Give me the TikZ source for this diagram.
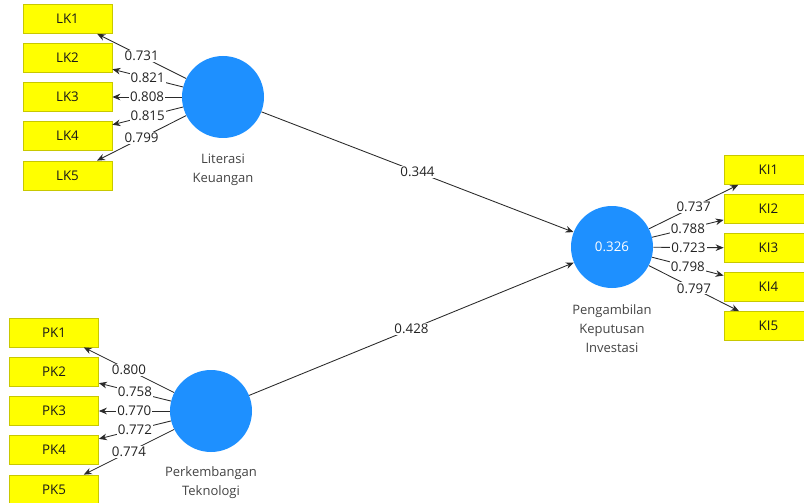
\documentclass[tikz,border=0pt]{standalone}
\usepackage{fontspec}
\setmainfont{Open Sans}
\usetikzlibrary{arrows.meta}
\definecolor{lvblue}{HTML}{1E90FF}
\definecolor{boxyellow}{HTML}{FFFF00}
\definecolor{boxborder}{HTML}{C8C800}
\definecolor{lineclr}{HTML}{2A2A2A}
\definecolor{txtclr}{HTML}{222222}
\tikzset{
  ind/.style={draw=boxborder, line width=0.6pt, fill=boxyellow, minimum width=66.75pt, minimum height=21.75pt, inner sep=0pt, font=\fontsize{10}{12}\selectfont, text=black!90},
  latent/.style={circle, fill=lvblue, minimum size=61.5pt, inner sep=0pt, font=\fontsize{10}{12}\selectfont, text=white},
  lvlabel/.style={anchor=north, align=center, inner sep=0pt, font=\fontsize{9.75}{14.25}\selectfont, text=txtclr!85},
  conn/.style={draw=lineclr, line width=0.65pt, -{Stealth[length=6pt,width=5pt]}},
  wlab/.style={fill=white, inner sep=0.8pt, font=\fontsize{10}{12}\selectfont, text=txtclr}
}
\begin{document}
\begin{tikzpicture}[x=0.75pt,y=-0.75pt]
\useasboundingbox (0,0) rectangle (804,503);
\clip (0,0) rectangle (804,503);
% latent variables
\node[latent] (LIT) at (223,97) {};
\node[latent] (PT) at (211,411) {};
\node[latent] (PKI) at (612,247) {0.326};
\node[lvlabel] (LITl) at (223,154) {Literasi\\Keuangan};
\node[lvlabel] (PTl) at (211,466) {Perkembangan\\Teknologi};
\node[lvlabel] (PKIl) at (612,304) {Pengambilan\\Keputusan\\Investasi};
% LK indicators
\node[ind] (LK1) at (67.5,19) {LK1};
\node[ind] (LK2) at (67.5,58) {LK2};
\node[ind] (LK3) at (67.5,97) {LK3};
\node[ind] (LK4) at (67.5,136) {LK4};
\node[ind] (LK5) at (67.5,175.5) {LK5};
% PK indicators
\node[ind] (PK1) at (54,332.5) {PK1};
\node[ind] (PK2) at (54,372) {PK2};
\node[ind] (PK3) at (54,411) {PK3};
\node[ind] (PK4) at (54,450) {PK4};
\node[ind] (PK5) at (54,489.5) {PK5};
% KI indicators
\node[ind] (KI1) at (768.5,170) {KI1};
\node[ind] (KI2) at (768.5,209) {KI2};
\node[ind] (KI3) at (768.5,248) {KI3};
\node[ind] (KI4) at (768.5,287) {KI4};
\node[ind] (KI5) at (768.5,326) {KI5};
% loadings
\draw[conn] (LIT) -- node[wlab] {0.731} (LK1);
\draw[conn] (LIT) -- node[wlab] {0.821} (LK2);
\draw[conn] (LIT) -- node[wlab] {0.808} (LK3);
\draw[conn] (LIT) -- node[wlab] {0.815} (LK4);
\draw[conn] (LIT) -- node[wlab] {0.799} (LK5);
\draw[conn] (PT) -- node[wlab] {0.800} (PK1);
\draw[conn] (PT) -- node[wlab] {0.758} (PK2);
\draw[conn] (PT) -- node[wlab] {0.770} (PK3);
\draw[conn] (PT) -- node[wlab] {0.772} (PK4);
\draw[conn] (PT) -- node[wlab] {0.774} (PK5);
\draw[conn] (PKI) -- node[wlab] {0.737} (KI1);
\draw[conn] (PKI) -- node[wlab] {0.788} (KI2);
\draw[conn] (PKI) -- node[wlab] {0.723} (KI3);
\draw[conn] (PKI) -- node[wlab] {0.798} (KI4);
\draw[conn] (PKI) -- node[wlab] {0.797} (KI5);
% paths
\draw[conn] (LIT) -- node[wlab] {0.344} (PKI);
\draw[conn] (PT) -- node[wlab] {0.428} (PKI);
\end{tikzpicture}
\end{document}
